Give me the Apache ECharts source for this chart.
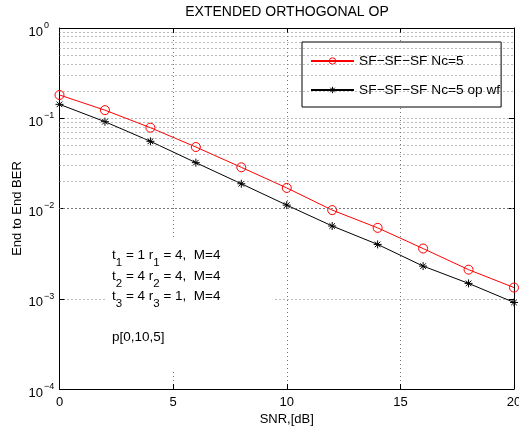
<!DOCTYPE html>
<html><head><meta charset="utf-8">
<script src="https://cdn.jsdelivr.net/npm/echarts@6/dist/echarts.min.js"></script>
<style>html,body{margin:0;padding:0;background:#fff}#c{width:519px;height:429px}</style>
</head><body><div id="c"></div>
<script>
var snr = [0, 2, 4, 6, 8, 10, 12, 14, 16, 18, 20];
var berNc5 = [0.181, 0.123, 0.0786, 0.048, 0.0286, 0.0169, 0.0096, 0.0061, 0.0036, 0.0021, 0.00133];
var berNc5OpWf = [0.1426, 0.0916, 0.0555, 0.0322, 0.0188, 0.0109, 0.0064, 0.0040, 0.0023, 0.00148, 0.00091];
var seriesNames = ['SF\u2212SF\u2212SF Nc=5', 'SF\u2212SF\u2212SF Nc=5 op wf'];
var xTicks = [0, 5, 10, 15, 20];
var yDecades = [1e-4, 1e-3, 1e-2, 1e-1];
var yMinorMantissas = [2, 3, 4, 5, 6, 7, 8, 9];
var annotationLines = [
  ['t', '1', ' = 1 r', '1', ' = 4,  M=4'],
  ['t', '2', ' = 4 r', '2', ' = 4,  M=4'],
  ['t', '3', ' = 4 r', '3', ' = 1,  M=4']
];
var annotationExtra = 'p[0,10,5]';

var minorVals = [];
yDecades.forEach(function (d) { yMinorMantissas.forEach(function (m) { minorVals.push(m * d); }); });

var FONT = 'Liberation Sans, Arial, Helvetica, sans-serif';
var dotted = { type: [1, 3], color: '#777', width: 1 };

function pair(a, b) { return snr.map(function (x, i) { return [x, b[i]]; }); }

var chart = echarts.init(document.getElementById('c'), null, { renderer: 'canvas' });

var graphics = [{
  type: 'rect', z: 100, silent: true,
  shape: { x: 105, y: 240, width: 168, height: 132 },
  style: { fill: '#fff' }
}];
var lineY = [255, 276, 296];
annotationLines.forEach(function (parts, i) {
  var t = '{m|' + parts[0] + '}{s|' + parts[1] + '}{m|' + parts[2] + '}{s|' + parts[3] + '}{m|' + parts[4] + '}';
  graphics.push({
    type: 'text', z: 101, silent: true, x: 112, y: lineY[i],
    style: {
      text: t, fill: '#000', font: '13.5px ' + FONT, verticalAlign: 'middle', align: 'left',
      rich: {
        m: { fontSize: 13.5, fontFamily: FONT, lineHeight: 14, verticalAlign: 'middle', fill: '#000' },
        s: { fontSize: 11.5, fontFamily: FONT, lineHeight: 11, padding: [16, 0, 0, 0], verticalAlign: 'middle', fill: '#000' }
      }
    }
  });
});
graphics.push({
  type: 'text', z: 101, silent: true, x: 112, y: 337,
  style: { text: annotationExtra, fill: '#000', font: '13.5px ' + FONT, verticalAlign: 'middle', align: 'left' }
});

var option = {
  animation: false,
  backgroundColor: '#fff',
  title: {
    text: 'EXTENDED ORTHOGONAL OP', left: 287, top: 5, textAlign: 'center', padding: 0,
    textStyle: { fontFamily: FONT, fontSize: 14, fontWeight: 'normal', color: '#000' }
  },
  legend: {
    orient: 'vertical', left: 302, top: 42,
    padding: [11, 1, 9, 8], itemGap: 13, itemWidth: 43, itemHeight: 8,
    backgroundColor: '#fff', borderColor: '#000', borderWidth: 1, borderRadius: 0,
    itemStyle: { borderWidth: 1 },
    textStyle: { fontFamily: FONT, fontSize: 13.7, color: '#000', lineHeight: 16 },
    data: seriesNames
  },
  grid: { left: 59.5, right: 5, top: 28, bottom: 40, containLabel: false, outerBoundsMode: 'none' },
  xAxis: [{
    type: 'value', min: 0, max: 20, interval: 5,
    name: 'SNR,[dB]', nameLocation: 'middle', nameGap: 24, nameMoveOverlap: false,
    nameTextStyle: { fontFamily: FONT, fontSize: 13, color: '#000' },
    axisLine: { show: true, onZero: false, lineStyle: { color: '#000', width: 1 } },
    axisTick: { show: true, inside: true, length: 5, lineStyle: { color: '#000' } },
    axisLabel: { fontFamily: FONT, fontSize: 13, color: '#000', margin: 7 },
    splitLine: { show: true, lineStyle: dotted }
  }, {
    type: 'value', min: 0, max: 20, interval: 5, position: 'top',
    axisLine: { show: true, onZero: false, lineStyle: { color: '#000', width: 1 } },
    axisTick: { show: true, inside: true, length: 5, lineStyle: { color: '#000' } },
    axisLabel: { show: false }, splitLine: { show: false }
  }],
  yAxis: [{
    type: 'log', logBase: 10, min: 1e-4, max: 1, splitNumber: 4,
    name: 'End to End BER', nameLocation: 'middle', nameGap: 36, nameMoveOverlap: false,
    nameTextStyle: { fontFamily: FONT, fontSize: 13, color: '#000' },
    axisLine: { show: true, onZero: false, lineStyle: { color: '#000', width: 1 } },
    axisTick: { show: true, inside: true, length: 5, lineStyle: { color: '#000' } },
    axisLabel: {
      align: 'left', margin: 31, color: '#000', padding: [8, 0, 0, 0],
      formatter: function (v) {
        var e = Math.round(Math.log10(v));
        return '{b|10}{e|' + (e < 0 ? '\u2212' + (-e) : e) + '}';
      },
      rich: {
        b: { fontFamily: FONT, fontSize: 13, lineHeight: 14, color: '#000', verticalAlign: 'middle' },
        e: { fontFamily: FONT, fontSize: 9, lineHeight: 8, color: '#000', padding: [0, 0, 13, 1], verticalAlign: 'middle' }
      }
    },
    splitLine: { show: true, lineStyle: dotted }
  }, {
    type: 'log', logBase: 10, min: 1e-4, max: 1, splitNumber: 4, position: 'right',
    axisLine: { show: true, onZero: false, lineStyle: { color: '#000', width: 1 } },
    axisTick: { show: true, inside: true, length: 5, lineStyle: { color: '#000' } },
    axisLabel: { show: false }, splitLine: { show: false }
  }],
  series: [{
    name: seriesNames[0], type: 'line', data: pair(snr, berNc5),
    symbol: 'circle', symbolSize: 9, z: 3,
    lineStyle: { color: '#ff0000', width: 1 },
    itemStyle: { color: 'rgba(255,255,255,0)', borderColor: '#ff0000', borderWidth: 1 },
    markLine: {
      silent: true, symbol: 'none', label: { show: false }, animation: false,
      lineStyle: dotted, emphasis: { disabled: true },
      data: minorVals.map(function (v) { return { yAxis: v }; })
    }
  }, {
    name: seriesNames[1], type: 'line', data: pair(snr, berNc5OpWf),
    symbol: 'path://M5 0L5 10M0 5L10 5M1.5 1.5L8.5 8.5M1.5 8.5L8.5 1.5', symbolSize: 8, z: 3,
    lineStyle: { color: '#000', width: 1 },
    itemStyle: { color: '#000', borderColor: '#000', borderWidth: 1 }
  }],
  graphic: graphics
};
chart.setOption(option);
</script></body></html>
